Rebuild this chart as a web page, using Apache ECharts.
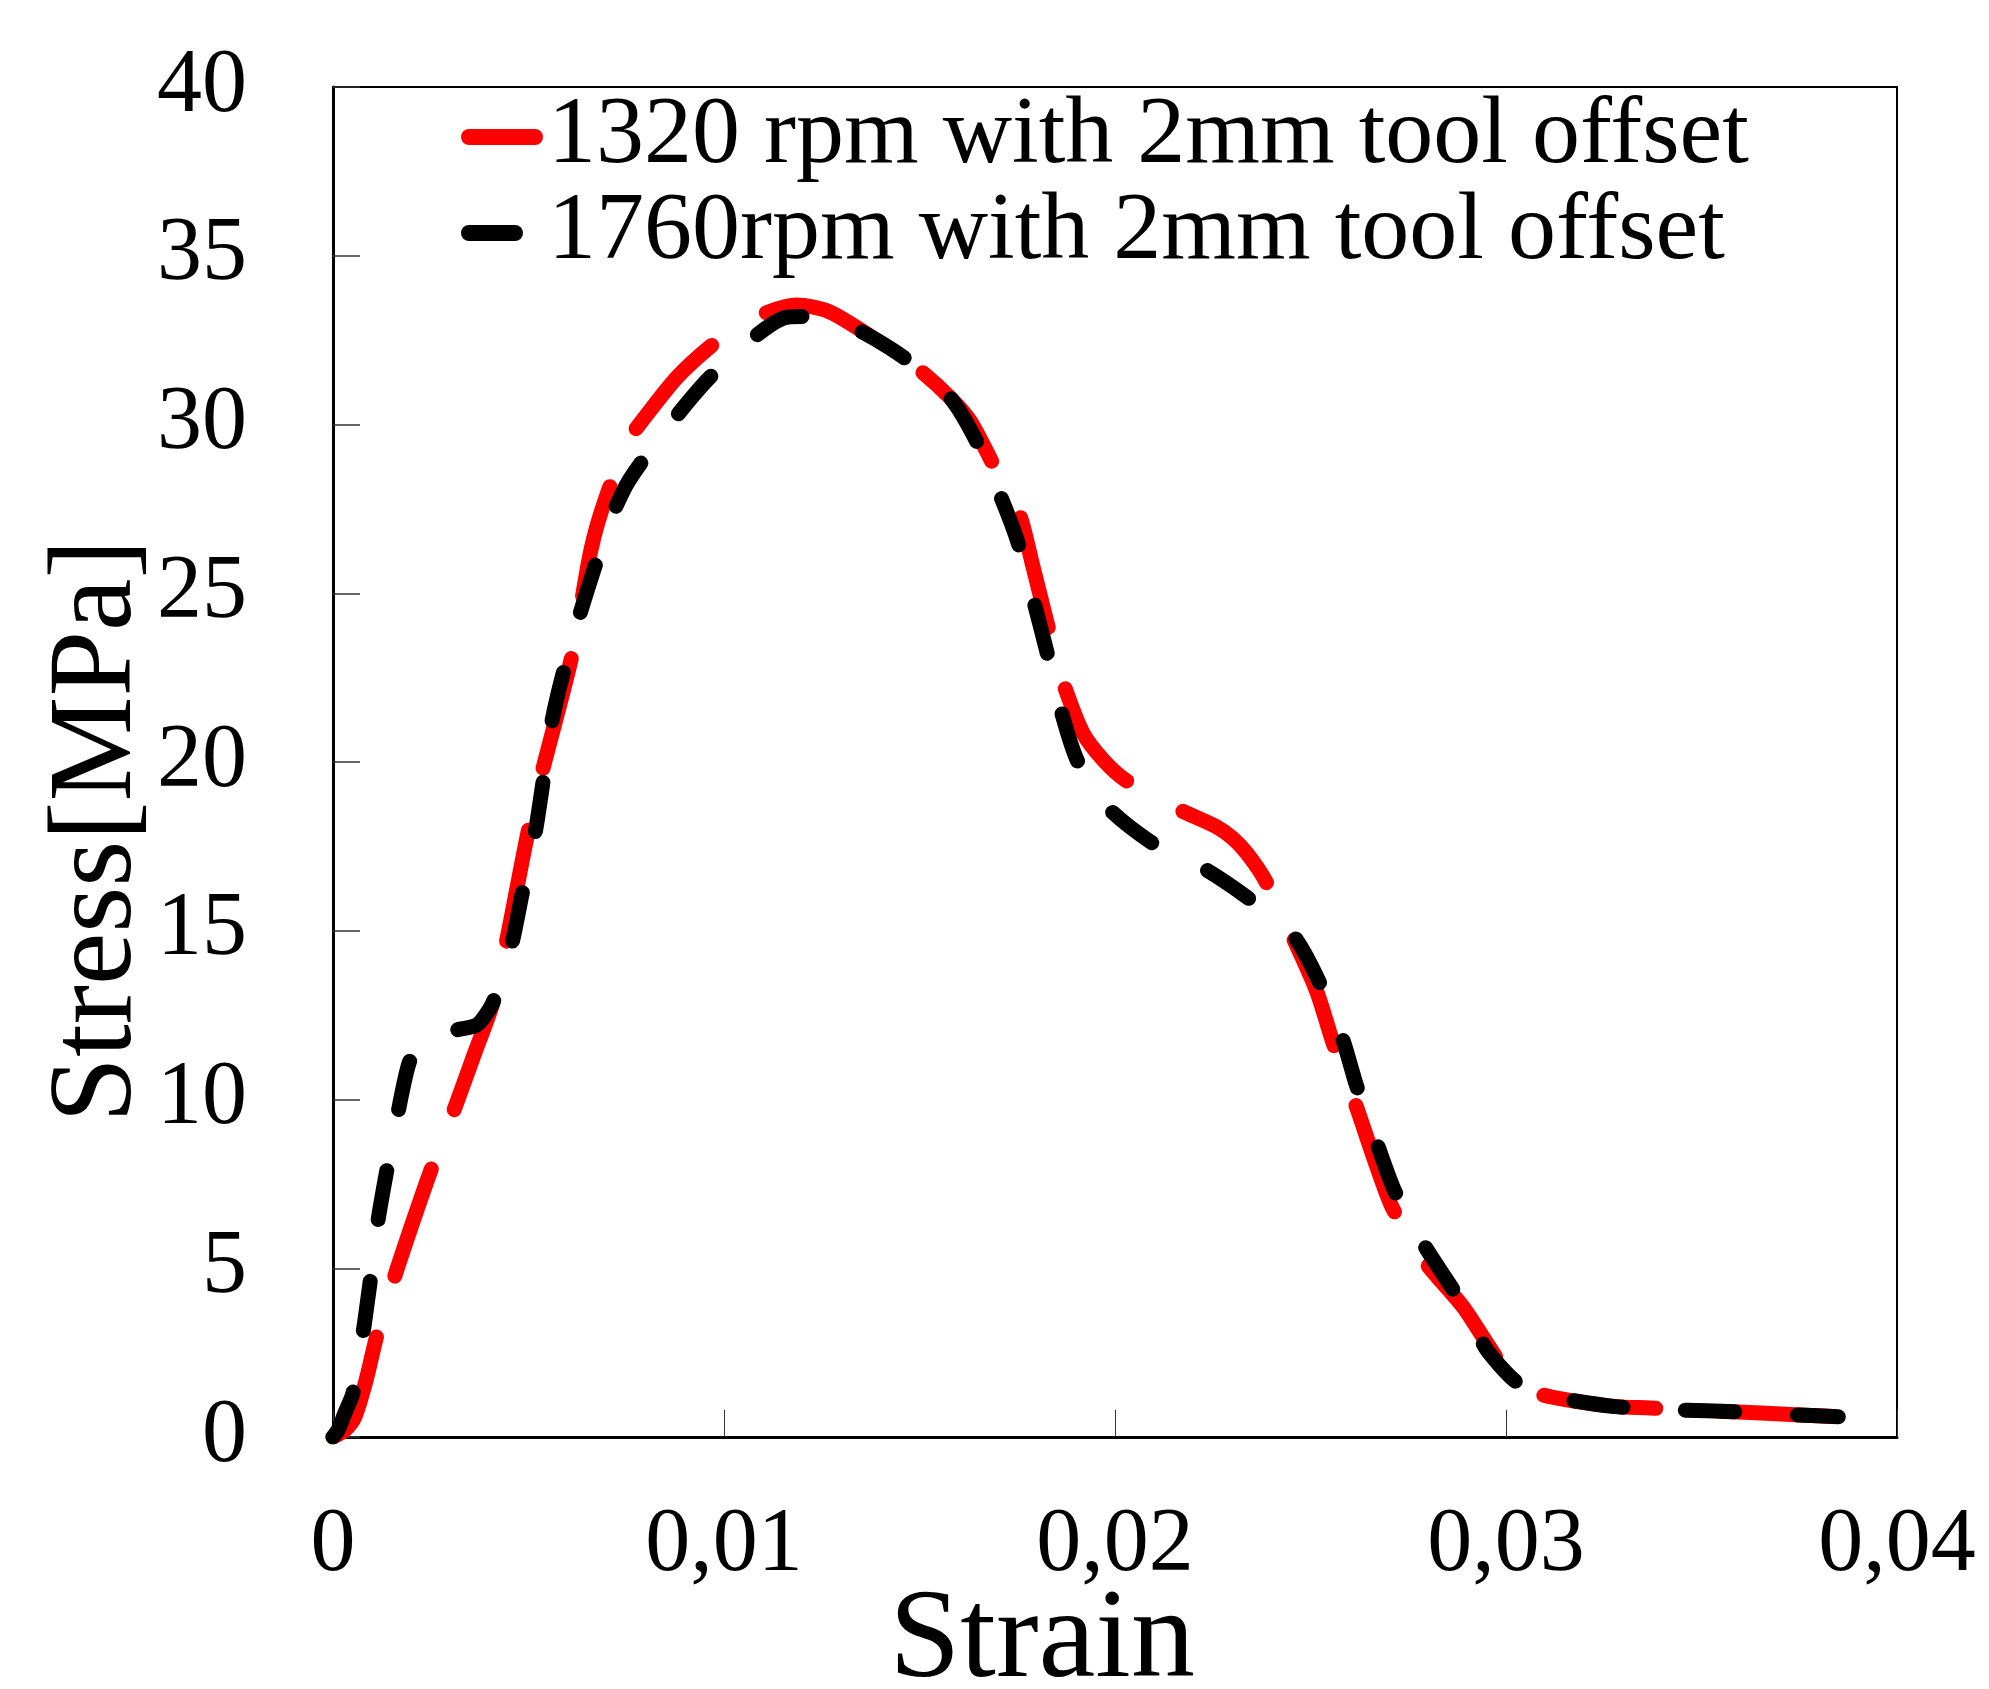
<!DOCTYPE html>
<html>
<head>
<meta charset="utf-8">
<script src="https://cdn.jsdelivr.net/npm/echarts@6/dist/echarts.min.js"></script>
<style>
html,body{margin:0;padding:0;background:#fff;}
#chart{width:1989px;height:1689px;}
</style>
</head>
<body>
<div id="chart"></div>
<script>
// Series names
const seriesNames = ['1320 rpm with 2mm tool offset', '1760rpm with 2mm tool offset'];

// 1320 rpm: [strain, stress MPa]
const red1320 = [
  [0, 0], [0.0003, 0.2], [0.00056, 0.6], [0.00085, 1.7], [0.00112, 3.0],
  [0.00159, 4.8], [0.00205, 6.4], [0.00252, 7.96], [0.0031, 9.7], [0.0036, 11.3],
  [0.0041, 12.9], [0.00444, 14.7], [0.005, 18.0], [0.00537, 19.8], [0.0061, 23.1],
  [0.0066, 26.3], [0.0070, 27.9], [0.0076, 29.6], [0.0081, 30.4], [0.0088, 31.4],
  [0.00964, 32.3], [0.0103, 32.85], [0.01105, 33.3], [0.01186, 33.54], [0.0127, 33.34],
  [0.0139, 32.5], [0.0145, 32.0], [0.01506, 31.56], [0.01578, 30.8], [0.0163, 30.1],
  [0.01685, 28.9], [0.0172, 28.1], [0.01757, 27.3], [0.0179, 25.8], [0.01829, 24.0],
  [0.0185, 23.1], [0.01872, 22.2], [0.01918, 20.86], [0.0197, 20.06], [0.02026, 19.47],
  [0.021, 19.0], [0.02166, 18.58], [0.0226, 18.08], [0.023, 17.75], [0.02337, 17.3],
  [0.02384, 16.5], [0.02455, 14.8], [0.02516, 13.2], [0.02558, 11.67], [0.02614, 9.9],
  [0.0267, 8.0], [0.0271, 6.78], [0.02793, 5.19], [0.0289, 3.86], [0.0295, 2.8],
  [0.02985, 2.19], [0.0302, 1.69], [0.03078, 1.3], [0.03155, 1.1], [0.03283, 0.9],
  [0.03368, 0.86], [0.03453, 0.8], [0.0358, 0.75], [0.03752, 0.65], [0.0385, 0.6]
];

// 1760 rpm: [strain, stress MPa]
const black1760 = [
  [0, 0], [0.00015, 0.25], [0.0003, 0.7], [0.00051, 1.3], [0.00077, 3.1],
  [0.00095, 4.6], [0.00115, 6.4], [0.00137, 7.86], [0.00166, 9.6], [0.00195, 11.1],
  [0.0023, 11.8], [0.00316, 12.06], [0.00367, 12.2], [0.0039, 12.5], [0.0041, 12.9],
  [0.00457, 14.6], [0.00483, 16.06], [0.00517, 17.9], [0.00537, 19.4], [0.0056, 21.2],
  [0.00588, 22.6], [0.00632, 24.4], [0.0067, 25.8], [0.0071, 27.2], [0.0075, 28.2],
  [0.0079, 28.9], [0.00882, 30.3], [0.00964, 31.4], [0.01084, 32.65], [0.01151, 33.15],
  [0.01199, 33.2], [0.0127, 33.1], [0.01352, 32.75], [0.01458, 32.0], [0.01578, 30.8],
  [0.01646, 29.5], [0.0171, 27.8], [0.01752, 26.5], [0.01795, 24.65], [0.01825, 23.3],
  [0.01864, 21.45], [0.01903, 20.06], [0.0195, 19.2], [0.01992, 18.53], [0.0209, 17.64],
  [0.0216, 17.2], [0.02234, 16.8], [0.02337, 16.0], [0.024, 15.4], [0.0246, 14.8],
  [0.0252, 13.54], [0.02583, 11.76], [0.02618, 10.4], [0.02673, 8.6], [0.02716, 7.27],
  [0.02793, 5.64], [0.0286, 4.45], [0.0291, 3.5], [0.0295, 2.6], [0.0302, 1.69],
  [0.03078, 1.3], [0.0316, 1.1], [0.0328, 0.9], [0.0337, 0.85], [0.0345, 0.8],
  [0.0358, 0.75], [0.0375, 0.65], [0.0385, 0.6]
];

const xTickLabels = ['0', '0,01', '0,02', '0,03', '0,04'];
const yTickLabels = ['0', '5', '10', '15', '20', '25', '30', '35', '40'];
const xTitle = 'Strain';
const yTitle = 'Stress[MPa]';

const FONT = '"Liberation Serif", "Times New Roman", serif';

// capsule legend icons (path box 82 x 16)
const iconRed = 'path://M8,0 L74,0 A8,8 0 0 1 74,16 L8,16 A8,8 0 0 1 8,0 Z';
const iconBlack = 'path://M8,0 L54,0 A8,8 0 0 1 54,16 L8,16 A8,8 0 0 1 8,0 Z M82,16 L82,16';

const chart = echarts.init(document.getElementById('chart'), null, {renderer: 'canvas'});
chart.setOption({
  backgroundColor: '#ffffff',
  animation: false,
  grid: {
    left: 333, right: 92, top: 87, bottom: 252,
    containLabel: false, outerBoundsMode: 'none',
    show: true, borderColor: '#000', borderWidth: 2, backgroundColor: 'transparent'
  },
  legend: {
    orient: 'vertical',
    left: 461, top: 89, padding: 0, itemGap: 0,
    itemWidth: 82, itemHeight: 16,
    selectedMode: false,
    textStyle: {fontFamily: FONT, fontSize: 96, color: '#000', lineHeight: 96},
    data: [
      {name: seriesNames[0], icon: iconRed, itemStyle: {color: '#ff0000', borderWidth: 0}},
      {name: seriesNames[1], icon: iconBlack, itemStyle: {color: '#000000', borderWidth: 0}}
    ]
  },
  xAxis: {
    type: 'value', min: 0, max: 0.04, interval: 0.01,
    name: xTitle, nameLocation: 'middle', nameGap: 141, nameMoveOverlap: false,
    nameTextStyle: {fontFamily: FONT, fontSize: 128, color: '#000', padding: [0, 146, 0, 0]},
    axisLine: {show: true, onZero: false, lineStyle: {color: '#000', width: 3}},
    axisTick: {show: true, inside: true, length: 27, lineStyle: {color: '#333', width: 1}},
    splitLine: {show: false},
    axisLabel: {
      fontFamily: FONT, fontSize: 90, color: '#000', margin: 64,
      formatter: v => xTickLabels[Math.round(v / 0.01)]
    }
  },
  yAxis: {
    type: 'value', min: 0, max: 40, interval: 5,
    name: yTitle, nameLocation: 'middle', nameGap: 175, nameRotate: 90, nameMoveOverlap: false,
    nameTextStyle: {fontFamily: FONT, fontSize: 118, color: '#000', padding: [0, 138, 0, 0]},
    axisLine: {show: true, onZero: false, lineStyle: {color: '#000', width: 3}},
    axisTick: {show: true, inside: true, length: 27, lineStyle: {color: '#333', width: 1.5}},
    splitLine: {show: false},
    axisLabel: {
      fontFamily: FONT, fontSize: 90, color: '#000', margin: 86,
      formatter: v => yTickLabels[Math.round(v / 5)]
    }
  },
  series: [
    {
      name: seriesNames[0], type: 'line', data: red1320,
      symbol: 'none', showSymbol: false, smooth: 0.25,
      color: '#ff0000',
      lineStyle: {color: '#ff0000', width: 15, type: [113, 63.8], cap: 'round', join: 'round'},
      z: 2
    },
    {
      name: seriesNames[1], type: 'line', data: black1760,
      symbol: 'none', showSymbol: false, smooth: 0.25,
      color: '#000000',
      lineStyle: {color: '#000000', width: 15, type: [49.6, 62.4], cap: 'round', join: 'round'},
      z: 3
    }
  ]
});
</script>
</body>
</html>
